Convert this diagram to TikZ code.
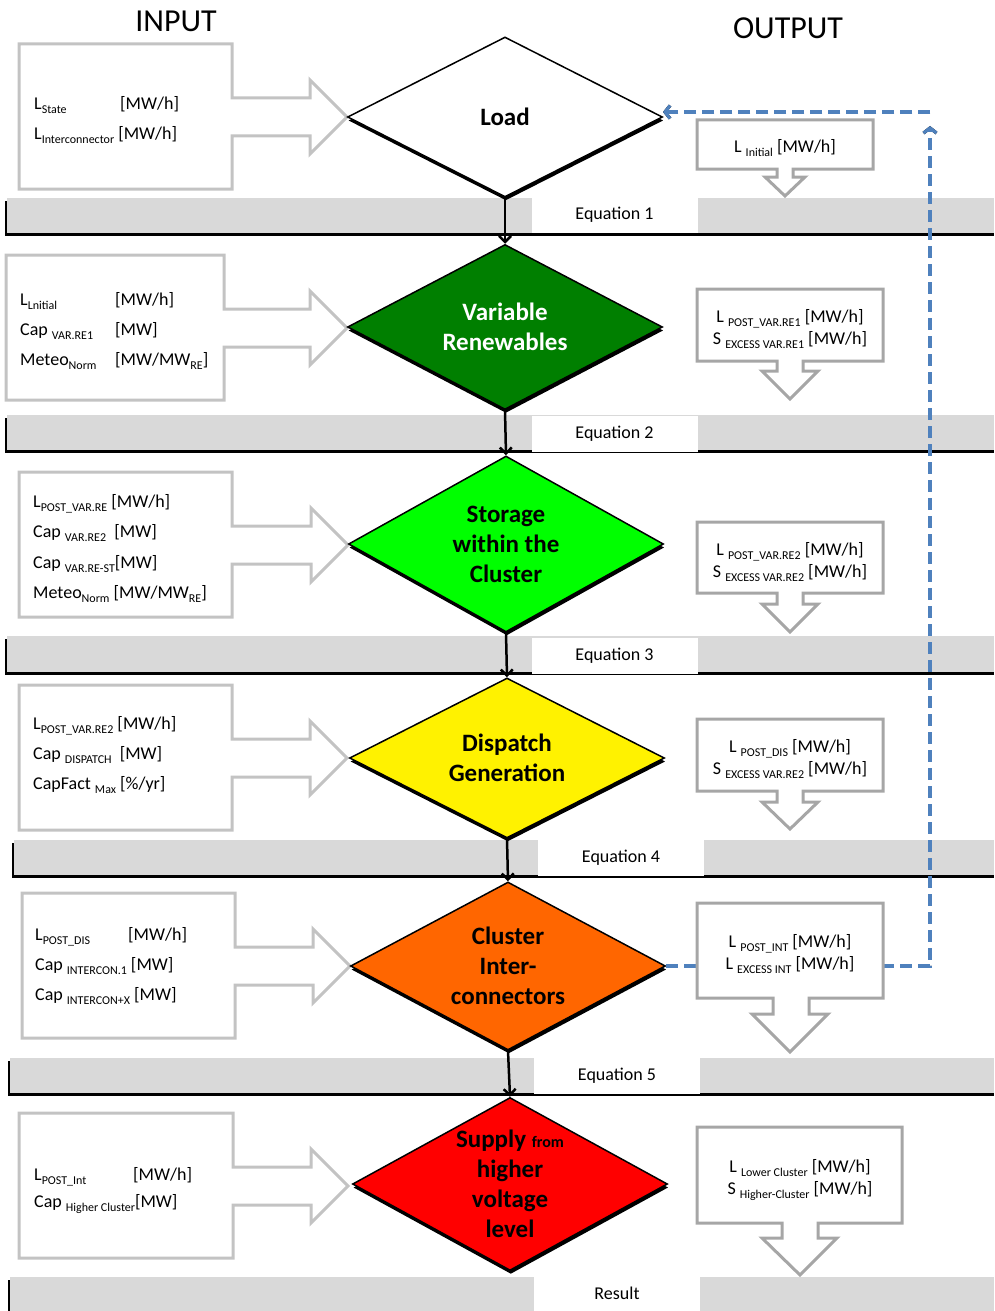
\documentclass[tikz,border=0pt]{standalone}
\usepackage{fontspec}
\setmainfont{Carlito}
\usetikzlibrary{shapes.geometric,shadows,arrows.meta}

\definecolor{bandgray}{HTML}{D9D9D9}
\definecolor{ingray}{HTML}{C3C3C3}
\definecolor{outgray}{HTML}{A6A6A6}
\definecolor{fbblue}{HTML}{4F81BD}
\definecolor{vrgreen}{HTML}{007F00}
\definecolor{stgreen}{HTML}{00FF00}
\definecolor{clorange}{HTML}{FF6600}

\newcommand\ssub[1]{\raisebox{-4pt}{\fontsize{12}{12}\selectfont #1}}

\tikzset{
  decision/.style={diamond, draw=black, line width=1.5pt, inner sep=0pt, minimum width=315pt,
    drop shadow={shadow xshift=0.8pt, shadow yshift=-3.5pt, opacity=1, fill=black}},
  dtext/.style={font=\fontsize{25}{30}\selectfont\bfseries, align=center, inner sep=0pt},
  intext/.style={font=\fontsize{18}{30}\selectfont, anchor=base west, inner sep=0pt},
  outtext/.style={font=\fontsize{18}{22}\selectfont, anchor=base, inner sep=0pt},
  incall/.style={draw=ingray, line width=3pt, fill=white},
  outcall/.style={draw=outgray, line width=3pt, fill=white},
  eqbox/.style={fill=white, inner sep=0pt, minimum width=166pt, minimum height=36pt, font=\fontsize{18}{20}\selectfont},
  flow/.style={-{Straight Barb[length=6pt,width=12pt]}, line width=2.5pt, black},
  feedback/.style={line width=3.2pt, draw=fbblue, dash pattern=on 12pt off 6pt,
    -{Straight Barb[length=5pt,width=13pt]}},
  fbshade/.style={feedback, draw=black, xshift=-2pt, yshift=-2pt},
}

\begin{document}
\begin{tikzpicture}[x=1pt, y=-1pt]
  \useasboundingbox (0,0) rectangle (994,1311);

  \foreach \x/\t/\b in {5/198/236, 5/415/453, 5/636/675, 12/840/878, 8/1058/1096, 8/1277/1314}{
    \fill[black] (\x,\t+3) rectangle (994,\b);
    \fill[bandgray] (\x+2,\t) rectangle (994,\b-3);
  }

  \node[font=\fontsize{32}{36}\selectfont, anchor=base] (intitle) at (176,32) {INPUT};
  \node[font=\fontsize{32}{36}\selectfont, anchor=base] (outtitle) at (788,39) {OUTPUT};

  \foreach \l/\t/\r/\tip in {19/44/232/347, 6/255/224/347, 19/472/232/348, 19/685/232/347, 22/893/235/350, 19/1113/233/348}{
    \draw[incall] (\l,\t) -- (\r,\t) -- (\r,\t+54) -- (\tip-37,\t+54) -- (\tip-37,\t+36) -- (\tip,\t+73)
      -- (\tip-37,\t+110) -- (\tip-37,\t+92) -- (\r,\t+92) -- (\r,\t+145) -- (\l,\t+145) -- cycle;
  }

  \node[decision, fill=white, minimum height=160pt] (load) at (505,117) {};
  \node[decision, fill=vrgreen, minimum height=165pt] (varre) at (505,327) {};
  \node[decision, fill=stgreen, minimum height=176pt] (stor) at (506,544) {};
  \node[decision, fill=yellow, minimum height=160pt] (disp) at (507,758) {};
  \node[decision, fill=clorange, minimum height=168pt] (clus) at (508,966) {};
  \node[decision, fill=red, minimum height=173pt] (supp) at (510,1184) {};

  \coordinate (fbbot) at (930,966);
  \coordinate (fbup) at (930,126);
  \coordinate (fbtop) at (930,112);
  \coordinate (fbend) at (663,112);
  \draw[fbshade] (clus.east) -- (fbbot) -- (fbup);
  \draw[fbshade] (fbtop) -- (fbend);
  \draw[feedback] (clus.east) -- (fbbot) -- (fbup);
  \draw[feedback] (fbtop) -- (fbend);

  \foreach \l/\r/\t/\b/\sl/\sr/\h/\hl/\hr/\tx/\ty in {697/873/120/169/777/793/177/765/805/785/196,
      697/883/289/361/777/803/371/762/818/790/399, 697/883/522/593/777/803/604/762/818/790/632,
      697/883/719/791/777/803/802/762/818/790/829, 697/883/903/998/773/809/1014/752/828/790/1052,
      697/902/1127/1223/782/818/1238/762/837/800/1275}{
    \draw[outcall] (\l,\t) -- (\r,\t) -- (\r,\b) -- (\sr,\b) -- (\sr,\h) -- (\hr,\h) -- (\tx,\ty)
      -- (\hl,\h) -- (\sl,\h) -- (\sl,\b) -- (\l,\b) -- cycle;
  }

  \node[dtext] (loadtxt) at (load) {Load};
  \node[dtext, text=white] (varretxt) at (varre) {Variable\\Renewables};
  \node[dtext] (stortxt) at (stor) {Storage\\within the\\Cluster};
  \node[dtext] (disptxt) at (disp) {Dispatch\\Generation};
  \node[dtext] (clustxt) at (clus) {Cluster\\Inter-\\connectors};
  \node[dtext] (supptxt) at (supp) {Supply {\fontsize{16}{16}\selectfont from}\\higher\\voltage\\level};

  \draw[flow] (load.south) -- (varre.north);
  \draw[flow] (varre.south) -- (stor.north);
  \draw[flow] (stor.south) -- (disp.north);
  \draw[flow] (disp.south) -- (clus.north);
  \draw[flow] (clus.south) -- (supp.north);

  \node[eqbox] (eq1) at (614.5,215) {Equation 1};
  \node[eqbox] (eq2) at (614.5,433.5) {Equation 2};
  \node[eqbox] (eq3) at (614.5,655.5) {Equation 3};
  \node[eqbox] (eq4) at (621,857.5) {Equation 4};
  \node[eqbox] (eq5) at (617,1075.5) {Equation 5};
  \node[eqbox, minimum height=35pt] (res) at (617,1293.5) {Result};

  \node[intext] (in1) at (34,110) {\begin{tabular}[t]{@{}l@{}}
    \makebox[86pt][l]{L\ssub{State}}[MW/h]\\
    L\ssub{Interconnector} [MW/h]\end{tabular}};
  \node[intext] (in2) at (20,305) {\begin{tabular}[t]{@{}l@{}}
    \makebox[95pt][l]{L\ssub{Lnitial}}[MW/h]\\
    \makebox[95pt][l]{Cap \ssub{VAR.RE1}}[MW]\\
    \makebox[95pt][l]{Meteo\ssub{Norm}}[MW/MW\ssub{RE}]\end{tabular}};
  \node[intext, font=\fontsize{18}{30.5}\selectfont] (in3) at (33,507) {\begin{tabular}[t]{@{}l@{}}
    L\ssub{POST\_VAR.RE} [MW/h]\\
    Cap \ssub{VAR.RE2}\ \ [MW]\\
    Cap \ssub{VAR.RE-ST}[MW]\\
    Meteo\ssub{Norm} [MW/MW\ssub{RE}]\end{tabular}};
  \node[intext] (in4) at (33,729) {\begin{tabular}[t]{@{}l@{}}
    L\ssub{POST\_VAR.RE2} [MW/h]\\
    Cap \ssub{DISPATCH}\ \ [MW]\\
    CapFact \ssub{Max} [\%/yr]\end{tabular}};
  \node[intext] (in5) at (35,940) {\begin{tabular}[t]{@{}l@{}}
    \makebox[93pt][l]{L\ssub{POST\_DIS}}[MW/h]\\
    Cap \ssub{INTERCON.1} [MW]\\
    Cap \ssub{INTERCON+X} [MW]\end{tabular}};
  \node[intext, font=\fontsize{18}{27}\selectfont] (in6) at (34,1180) {\begin{tabular}[t]{@{}l@{}}
    \makebox[99pt][l]{L\ssub{POST\_Int}}[MW/h]\\
    Cap \ssub{Higher Cluster}[MW]\end{tabular}};

  \node[outtext] (out1) at (785,152) {L \ssub{Initial} [MW/h]};
  \node[outtext] (out2) at (790,322) {\begin{tabular}[t]{@{}c@{}}
    L \ssub{POST\_VAR.RE1} [MW/h]\\ S \ssub{EXCESS VAR.RE1} [MW/h]\end{tabular}};
  \node[outtext] (out3) at (790,555) {\begin{tabular}[t]{@{}c@{}}
    L \ssub{POST\_VAR.RE2} [MW/h]\\ S \ssub{EXCESS VAR.RE2} [MW/h]\end{tabular}};
  \node[outtext] (out4) at (790,752) {\begin{tabular}[t]{@{}c@{}}
    L \ssub{POST\_DIS} [MW/h]\\ S \ssub{EXCESS VAR.RE2} [MW/h]\end{tabular}};
  \node[outtext] (out5) at (790,947) {\begin{tabular}[t]{@{}c@{}}
    L \ssub{POST\_INT} [MW/h]\\ L \ssub{EXCESS INT} [MW/h]\end{tabular}};
  \node[outtext] (out6) at (800,1172) {\begin{tabular}[t]{@{}c@{}}
    L \ssub{Lower Cluster} [MW/h]\\ S \ssub{Higher-Cluster} [MW/h]\end{tabular}};
\end{tikzpicture}
\end{document}
